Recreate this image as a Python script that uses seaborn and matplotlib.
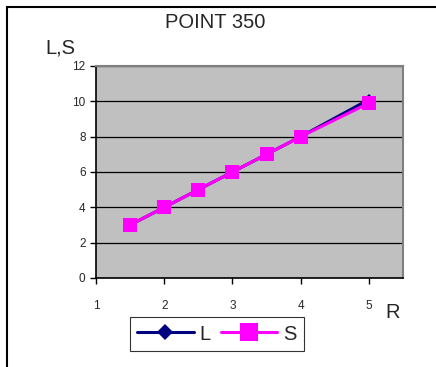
import matplotlib
matplotlib.use("Agg")
import matplotlib.pyplot as plt
import seaborn as sns
import pandas as pd
from matplotlib.patches import Rectangle

r_values = [1.5, 2, 2.5, 3, 3.5, 4, 5]
l_values = [3, 4, 5, 6, 7, 8, 10.1]
s_values = [3, 4, 5, 6, 7, 8, 9.9]
x_ticks = [1, 2, 3, 4, 5]
y_ticks = [0, 2, 4, 6, 8, 10, 12]

sns.set_theme(style="white")
plt.rcParams['font.family'] = ['Liberation Sans', 'DejaVu Sans']

W, H = 436, 367
fig = plt.figure(figsize=(W / 100, H / 100), dpi=100)
ax = fig.add_axes([96 / W, 1 - 278 / H, (403 - 96) / W, (278 - 66) / H])
ax.set_facecolor('#C0C0C0')

df = pd.DataFrame({'R': r_values + r_values,
                   'val': l_values + s_values,
                   'series': ['L'] * len(r_values) + ['S'] * len(r_values)})
sns.lineplot(data=df[df.series == 'L'], x='R', y='val', ax=ax, color='#000080',
             marker='D', markersize=6, linewidth=2.2, label='L', markeredgewidth=0)
sns.lineplot(data=df[df.series == 'S'], x='R', y='val', ax=ax, color='#FF00FF',
             marker='s', markersize=10, linewidth=2.2, label='S', markeredgewidth=0)

ax.set_xlim(1, 5.5)
ax.set_ylim(0, 12)
ax.set_xticks(x_ticks)
ax.set_yticks(y_ticks)
ax.yaxis.grid(True, color='black', linewidth=0.9)
ax.xaxis.grid(False)
ax.set_xlabel('')
ax.set_ylabel('')
for side in ['left', 'bottom']:
    ax.spines[side].set_color('black')
    ax.spines[side].set_linewidth(1.2)
for side in ['top', 'right']:
    ax.spines[side].set_color('#808080')
    ax.spines[side].set_linewidth(1.5)
ax.tick_params(axis='both', which='both', length=4, width=1, color='black',
               labelsize=8.5, direction='out', left=True, bottom=True)
ax.tick_params(axis='x', pad=12)

fig.text(215 / W, 1 - 22 / H, 'POINT 350', ha='center', va='center', fontsize=14.5)
fig.text(60 / W, 1 - 48 / H, 'L,S', ha='center', va='center', fontsize=14.5)
fig.text(393 / W, 1 - 312 / H, 'R', ha='center', va='center', fontsize=14.5)

leg = ax.legend(loc='center', bbox_to_anchor=((217 - 96) / (403 - 96), (278 - 334) / (278 - 66)),
                ncol=2, frameon=True, fancybox=False, edgecolor='black', fontsize=14.5,
                handlelength=2.8, columnspacing=0.5, handletextpad=0.3, borderpad=0.35,
                borderaxespad=0, markerscale=1.3)
leg.get_frame().set_linewidth(0.8)

fig.patches.append(Rectangle((7 / W, -0.1), 1.2, 1 - 7 / H + 0.1, transform=fig.transFigure,
                             fill=False, edgecolor='black', linewidth=1.5))

fig.savefig('out.png', dpi=100)
